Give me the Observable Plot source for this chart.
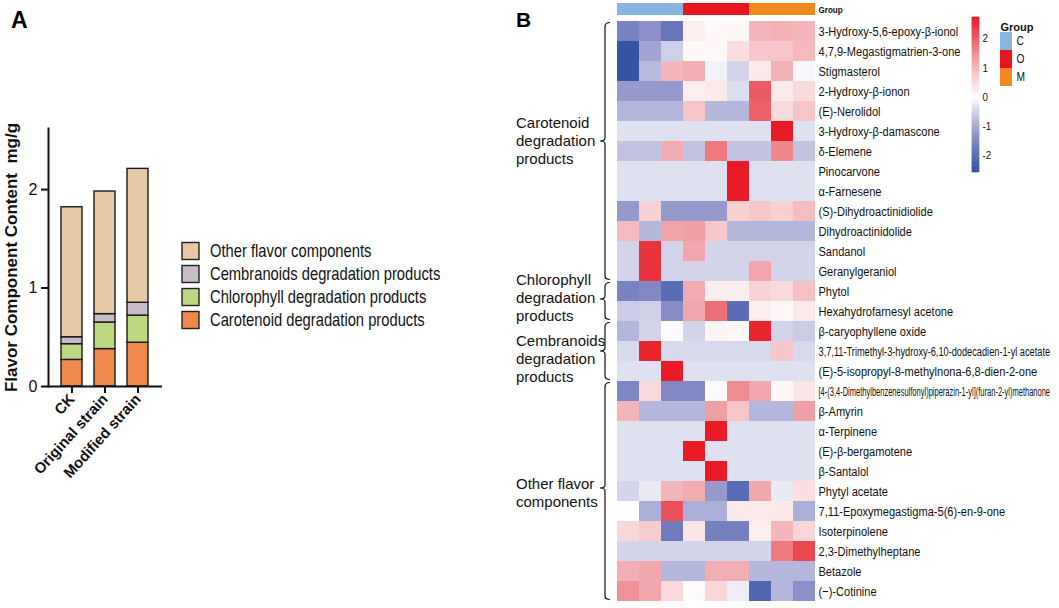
<!DOCTYPE html>
<html><head><meta charset="utf-8">
<script src="https://cdn.jsdelivr.net/npm/d3@7"></script>
<script src="https://cdn.jsdelivr.net/npm/@observablehq/plot@0.6"></script>
<style>
html,body{margin:0;padding:0;background:#fff;}
#root{position:relative;width:1059px;height:608px;overflow:hidden;background:#fff;}
</style></head><body><div id="root"></div>
<script>
const FONT = "'Liberation Sans', Arial, sans-serif";

// ---------- Panel A data ----------
const samples = ["CK", "Original strain", "Modified strain"];
const components = ["Carotenoid degradation products", "Chlorophyll degradation products", "Cembranoids degradation products", "Other flavor components"];
const carotenoid = [0.27, 0.38, 0.445];
const chlorophyll = [0.16, 0.27, 0.275];
const cembranoids = [0.07, 0.085, 0.13];
const otherFlavor = [1.32, 1.245, 1.36];
const componentColors = ["#ef894c", "#bed782", "#c8bcc8", "#e6c9a4"];
const yTicksA = [0, 1, 2];

// ---------- Panel B data ----------
const sampleCols = ["C1", "C2", "C3", "O1", "O2", "O3", "M1", "M2", "M3"];
const sampleGroups = ["C", "C", "C", "O", "O", "O", "M", "M", "M"];
const groupNames = ["C", "O", "M"];
const groupColors = ["#86b6e0", "#e8141f", "#f2891e"];
const compounds = [
  "3-Hydroxy-5,6-epoxy-β-ionol", "4,7,9-Megastigmatrien-3-one", "Stigmasterol", "2-Hydroxy-β-ionon",
  "(E)-Nerolidol", "3-Hydroxy-β-damascone", "δ-Elemene", "Pinocarvone", "α-Farnesene",
  "(S)-Dihydroactinidiolide", "Dihydroactinidolide", "Sandanol", "Geranylgeraniol",
  "Phytol", "Hexahydrofarnesyl acetone",
  "β-caryophyllene oxide", "3,7,11-Trimethyl-3-hydroxy-6,10-dodecadien-1-yl acetate", "(E)-5-isopropyl-8-methylnona-6,8-dien-2-one",
  "[4-(3,4-Dimethylbenzenesulfonyl)piperazin-1-yl](furan-2-yl)methanone", "β-Amyrin", "α-Terpinene", "(E)-β-bergamotene",
  "β-Santalol", "Phytyl acetate", "7,11-Epoxymegastigma-5(6)-en-9-one", "Isoterpinolene", "2,3-Dimethylheptane",
  "Betazole", "(−)-Cotinine"
];
const compoundClassCounts = [13, 2, 3, 11];
const classLabels = [
  ["Carotenoid", "degradation", "products"],
  ["Chlorophyll", "degradation", "products"],
  ["Cembranoids", "degradation", "products"],
  ["Other flavor", "components"]
];
const zscores = [
  [-1.55, -1.3, -1.8, 0.25, 0.1, 0.1, 1.0, 1.05, 1.0],
  [-2.45, -1.05, -0.55, 0.1, 0.1, 0.45, 0.75, 0.75, 0.95],
  [-2.45, -0.8, 1.0, 1.1, -0.15, -0.5, 0.3, 1.05, -0.1],
  [-1.2, -1.2, -1.2, 0.25, 0.3, -0.4, 2.0, 0.3, 0.5],
  [-0.85, -0.85, -0.85, 0.8, -0.85, -0.85, 1.95, 0.5, 0.8],
  [-0.35, -0.35, -0.35, -0.35, -0.35, -0.35, -0.35, 2.65, -0.35],
  [-0.7, -0.7, 1.15, -0.7, 1.7, -0.7, -0.7, 1.55, -0.7],
  [-0.35, -0.35, -0.35, -0.35, -0.35, 2.65, -0.35, -0.35, -0.35],
  [-0.35, -0.35, -0.35, -0.35, -0.35, 2.65, -0.35, -0.35, -0.35],
  [-1.2, 0.65, -1.2, -1.2, -1.2, 0.65, 0.75, 0.65, 0.9],
  [0.95, -0.85, 1.25, 1.3, 0.75, -0.85, -0.85, -0.85, -0.85],
  [-0.5, 2.4, -0.5, 1.2, -0.5, -0.5, -0.5, -0.5, -0.5],
  [-0.5, 2.4, -0.5, -0.5, -0.5, -0.5, 1.2, -0.5, -0.5],
  [-1.55, -1.45, -1.95, 1.15, 0.25, 0.25, 0.6, 0.5, 0.85],
  [-0.6, -0.55, -1.35, 1.2, 1.8, -1.95, 0.25, 0.1, 0.3],
  [-0.85, -0.5, 0.05, -0.5, 0.15, 0.1, 2.55, -0.5, -0.6],
  [-0.45, 2.55, -0.45, -0.45, -0.45, -0.45, -0.45, 0.75, -0.45],
  [-0.35, -0.35, 2.65, -0.35, -0.35, -0.35, -0.35, -0.35, -0.35],
  [-1.5, 0.5, -1.45, -1.45, -0.05, 1.5, 1.2, 0.1, 0.35],
  [1.0, -0.85, -0.85, -0.85, 1.3, 0.8, -0.85, -0.85, 1.3],
  [-0.35, -0.35, -0.35, -0.35, 2.65, -0.35, -0.35, -0.35, -0.35],
  [-0.35, -0.35, -0.35, 2.65, -0.35, -0.35, -0.35, -0.35, -0.35],
  [-0.35, -0.35, -0.35, -0.35, 2.65, -0.35, -0.35, -0.35, -0.35],
  [-0.5, -0.25, 1.0, 1.15, -1.2, -2.0, 1.2, -0.25, 0.45],
  [0.0, -0.95, 2.1, -0.95, -0.95, 0.3, 0.3, 0.3, -0.95],
  [0.55, 0.7, -1.7, 0.35, -1.6, -1.6, 0.25, 1.0, 0.55],
  [-0.5, -0.5, -0.5, -0.5, -0.5, -0.5, -0.5, 1.7, 2.2],
  [1.1, 1.2, -0.85, -0.85, 1.1, 1.1, -0.85, -0.85, -0.85],
  [1.45, 1.2, 0.5, 0.05, 0.55, -0.2, -2.1, -0.85, -1.3]
];
const colorStops = [-2.57, -1.3, 0, 1.3, 2.72];
const colorRange = ["#2c4ea3", "#8c90c8", "#ffffff", "#f0a0a5", "#e8141f"];
const colorTicks = [-2, -1, 0, 1, 2];

// layout tweaks for the bracket annotations (pixels, relative to each bracket's middle)
const bracketTickShift = [-10, -2, 0, -3];
const bracketLabelShift = [0, -1, 8, 5];

// ---------- helpers ----------
const root = document.getElementById("root");
function place(el, left, top) {
  el.style.position = "absolute";
  el.style.left = left + "px";
  el.style.top = top + "px";
  root.appendChild(el);
  return el;
}
// emulate a condensed face (no narrow font installed): squeeze glyphs horizontally
function narrow(sel, factor, maxLen) {
  sel.each(function () {
    const len = this.getComputedTextLength();
    let f = factor;
    if (maxLen && len * f > maxLen) f = maxLen / len;
    const x = +(this.getAttribute("x") || 0);
    const t = this.getAttribute("transform") || "";
    this.setAttribute("x", 0);
    this.setAttribute("transform", `${t} translate(${x},0) scale(${f.toFixed(4)},1)`);
  });
}
const baseStyle = {background: "transparent", overflow: "visible", fontFamily: FONT, color: "#111"};

// ---------- Panel A: stacked bars ----------
const seriesA = [carotenoid, chlorophyll, cembranoids, otherFlavor];
const barRows = samples.flatMap((s, i) => seriesA.map((arr, j) => ({sample: s, component: components[j], value: arr[i]})));
const chartA = Plot.plot({
  width: 172, height: 345,
  marginLeft: 48, marginRight: 10, marginTop: 18, marginBottom: 69,
  style: baseStyle,
  x: {domain: samples, paddingInner: 0.36, paddingOuter: 0.37},
  y: {domain: [0, 2.62]},
  color: {domain: components, range: componentColors},
  marks: [
    Plot.barY(barRows, {x: "sample", y: "value", fill: "component", stroke: "#1a1a1a", strokeWidth: 1.4, order: components}),
    Plot.axisX({tickSize: 7, tickRotate: -48, tickPadding: 3, fontSize: 15, fontWeight: "bold", strokeWidth: 2, label: null}),
    Plot.axisY({ticks: yTicksA, tickSize: 7, tickPadding: 4, fontSize: 16, strokeWidth: 2, tickFormat: d => String(d),
      label: "Flavor Component Content\u00a0 mg/g", labelAnchor: "center", labelOffset: 44, labelArrow: "none"}),
    Plot.ruleY([0], {strokeWidth: 2}),
    Plot.frame({anchor: "left", strokeWidth: 2})
  ]
});
place(chartA, 0, 110);
d3.select(chartA).selectAll('g[aria-label="y-axis label"]').attr("font-weight", "bold").attr("font-size", 17);
d3.select(chartA).selectAll('g[aria-label="y-axis label"] text').attr("font-weight", "bold").attr("font-size", 17);
d3.select(chartA).selectAll('g[aria-label="x-axis tick label"]').attr("font-weight", "bold");

// ---------- Panel B: group annotation bar ----------
const chartG = Plot.plot({
  width: 559, height: 16,
  marginLeft: 116, marginRight: 243, marginTop: 3, marginBottom: 1,
  style: baseStyle,
  x: {domain: sampleCols, padding: 0, axis: null},
  y: {domain: ["Group"], padding: 0},
  color: {domain: groupNames, range: groupColors},
  marks: [
    Plot.cell(sampleCols, {x: d => d, y: () => "Group", fill: (d, i) => sampleGroups[i], inset: 0}),
    Plot.axisY({anchor: "right", tickSize: 0, tickPadding: 2, fontSize: 9.5, fontWeight: "bold", label: null})
  ]
});
place(chartG, 500, 0);
narrow(d3.select(chartG).selectAll('g[aria-label="y-axis tick label"] text'), 0.85);

// ---------- Panel B: heatmap ----------
const cells = compounds.flatMap((c, i) => sampleCols.map((s, j) => ({compound: c, sample: s, z: zscores[i][j]})));
const colorScale = {type: "linear", domain: colorStops, range: colorRange, clamp: true};
const chartB = Plot.plot({
  width: 559, height: 592,
  marginLeft: 116, marginRight: 243, marginTop: 2, marginBottom: 4,
  style: baseStyle,
  x: {domain: sampleCols, padding: 0, axis: null},
  y: {domain: compounds, padding: 0},
  color: colorScale,
  marks: [
    Plot.cell(cells, {x: "sample", y: "compound", fill: "z", inset: 0}),
    Plot.axisY({anchor: "right", tickSize: 0, tickPadding: 2, fontSize: 13.5, label: null})
  ]
});
place(chartB, 500, 16);
narrow(d3.select(chartB).selectAll('g[aria-label="y-axis tick label"] text'), 0.82, 232);

// class brackets using the heatmap's y scale
const ysc = chartB.scale("y");
const yb = d3.scaleBand(ysc.domain, ysc.range).padding(0);
const yApply = ysc.apply ? (v => ysc.apply(v)) : yb;
const bw = ysc.bandwidth ?? yb.bandwidth();
const svgB = d3.select(chartB);
const gBr = svgB.append("g").attr("fill", "none").attr("stroke", "#111").attr("stroke-width", 1.2);
const gLab = svgB.append("g").attr("font-family", FONT).attr("font-size", 15).attr("fill", "#111").attr("text-anchor", "start");
let start = 0;
compoundClassCounts.forEach((n, k) => {
  const top = yApply(compounds[start]) + 1.5;
  const bot = yApply(compounds[start + n - 1]) + bw - 1.5;
  const mid = (top + bot) / 2 + bracketTickShift[k];
  const vx = 105, hx = 110, tx = 100;
  gBr.append("path").attr("d",
    `M${hx},${top} Q${vx},${top} ${vx},${top + 4} L${vx},${mid - 3} Q${vx},${mid} ${tx},${mid} Q${vx},${mid} ${vx},${mid + 3} L${vx},${bot - 4} Q${vx},${bot} ${hx},${bot}`);
  const lines = classLabels[k];
  const lh = 17.8;
  const c = mid + bracketLabelShift[k];
  lines.forEach((t, li) => {
    gLab.append("text").attr("x", 16).attr("y", c + (li - (lines.length - 1) / 2) * lh)
      .attr("dy", "0.35em").attr("text-anchor", "start").text(t);
  });
  start += n;
});

// ---------- Panel B: color bar ----------
const cbN = 120;
const slices = d3.range(cbN).map(i => {
  const a = colorStops[0] + (colorStops[4] - colorStops[0]) * i / cbN;
  const b = colorStops[0] + (colorStops[4] - colorStops[0]) * (i + 1) / cbN;
  return {y1: a, y2: b, v: (a + b) / 2};
});
const chartC = Plot.plot({
  width: 50, height: 190,
  marginLeft: 12, marginRight: 31, marginTop: 17, marginBottom: 18,
  style: baseStyle,
  y: {domain: [colorStops[0], colorStops[4]]},
  color: colorScale,
  marks: [
    Plot.rect(slices, {y1: "y1", y2: "y2", fill: "v", stroke: "v", strokeWidth: 0.6}),
    Plot.axisY({anchor: "right", ticks: colorTicks, tickSize: 0, tickPadding: 3, fontSize: 11.5, tickFormat: d => String(d), label: null})
  ]
});
place(chartC, 960, 0);
narrow(d3.select(chartC).selectAll('g[aria-label="y-axis tick label"] text'), 0.85);

// ---------- Panel B: group legend ----------
const chartL = Plot.plot({
  width: 60, height: 90,
  marginLeft: 10, marginRight: 38, marginTop: 31, marginBottom: 4,
  style: baseStyle,
  y: {domain: groupNames, padding: 0},
  color: {domain: groupNames, range: groupColors},
  marks: [
    Plot.cell(groupNames, {y: d => d, fill: d => d, inset: 0}),
    Plot.axisY({anchor: "right", tickSize: 0, tickPadding: 4, fontSize: 12, label: null}),
    Plot.text(["Group"], {text: d => d, frameAnchor: "top-left", textAnchor: "start", dy: -8, fontWeight: "bold", fontSize: 11})
  ]
});
place(chartL, 990, 0);
narrow(d3.select(chartL).selectAll('g[aria-label="y-axis tick label"] text'), 0.85);

// ---------- overlay: panel letters + panel A legend ----------
const ov = d3.create("svg").attr("width", 1059).attr("height", 608)
  .style("position", "absolute").style("left", "0px").style("top", "0px").style("pointer-events", "none")
  .attr("font-family", FONT);
root.appendChild(ov.node());
ov.append("text").attr("x", 11).attr("y", 28).attr("font-size", 23).attr("font-weight", "bold").text("A");
ov.append("text").attr("x", 516).attr("y", 27).attr("font-size", 21).attr("font-weight", "bold").text("B");
const legendOrder = components.map((c, i) => ({c, col: componentColors[i]})).reverse();
legendOrder.forEach((d, i) => {
  const cy = 251 + i * 23;
  ov.append("rect").attr("x", 182).attr("y", cy - 8.5).attr("width", 17).attr("height", 17)
    .attr("fill", d.col).attr("stroke", "#222").attr("stroke-width", 1.4);
  ov.append("text").attr("class", "lgA").attr("x", 0).attr("y", 0).attr("dy", "0.36em").attr("font-size", 18)
    .attr("transform", `translate(210,${cy})`).attr("fill", "#111").text(d.c);
});
narrow(ov.selectAll("text.lgA"), 0.82);
</script>
</body></html>
